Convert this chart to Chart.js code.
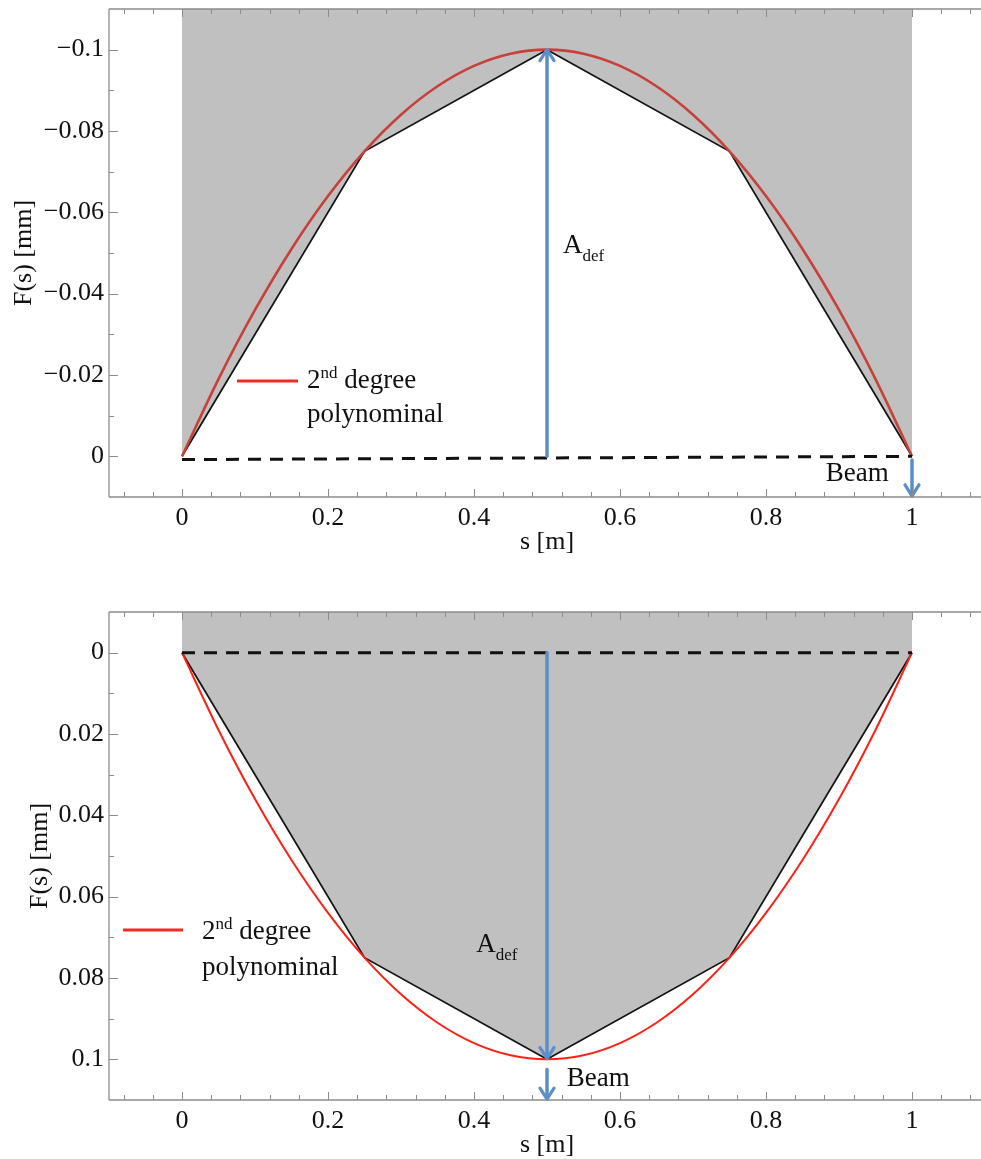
<!DOCTYPE html>
<html>
<head>
<meta charset="utf-8">
<script src="https://cdn.jsdelivr.net/npm/chart.js@4.4.1/dist/chart.umd.min.js"></script>
<style>
  html, body { margin: 0; padding: 0; background: #fff; overflow: hidden; }
  .wrap { position: absolute; left: 0; width: 981px; height: 558px; overflow: hidden; }
</style>
</head>
<body>
<div class="wrap" style="top:0"><canvas id="upper" width="990" height="558"></canvas></div>
<div class="wrap" style="top:603px"><canvas id="lower" width="990" height="558"></canvas></div>
<script>
const serif = '"Liberation Serif", "Times New Roman", serif';
const ink   = '#111111';
const gray  = '#c0c0c0';
const blue  = '#5b8ec9';
const axisGray = '#8c8c8c';

// support points of the deflected beam (polyline)
const sNodes       = [0, 0.25, 0.5, 0.75, 1];
const fNodesUpper  = [0, -0.075, -0.1, -0.075, 0];
const fNodesLower  = [0, 0.075, 0.1, 0.075, 0];

// 2nd degree polynominal
const sFit      = [0, 0.05, 0.1, 0.15, 0.2, 0.25, 0.3, 0.35, 0.4, 0.45, 0.5,
                   0.55, 0.6, 0.65, 0.7, 0.75, 0.8, 0.85, 0.9, 0.95, 1];
const fFitUpper = [0, -0.019, -0.036, -0.051, -0.064, -0.075, -0.084, -0.091, -0.096, -0.099, -0.1,
                   -0.099, -0.096, -0.091, -0.084, -0.075, -0.064, -0.051, -0.036, -0.019, 0];
const fFitLower = [0, 0.019, 0.036, 0.051, 0.064, 0.075, 0.084, 0.091, 0.096, 0.099, 0.1,
                   0.099, 0.096, 0.091, 0.084, 0.075, 0.064, 0.051, 0.036, 0.019, 0];

// undeformed beam (dashed)
const sBeam      = [0, 1];
const fBeamUpper = [0.0008, 0];
const fBeamLower = [0, 0];

// ticks
const xTicks = [0, 0.2, 0.4, 0.6, 0.8, 1];
const xMinor = [-0.08, -0.04, 0.04, 0.08, 0.12, 0.16, 0.24, 0.28, 0.32, 0.36, 0.44, 0.48,
                0.52, 0.56, 0.64, 0.68, 0.72, 0.76, 0.84, 0.88, 0.92, 0.96, 1.04, 1.08];
const yTicksUpper = [-0.1, -0.08, -0.06, -0.04, -0.02, 0];
const yMinorUpper = [-0.09, -0.07, -0.05, -0.03, -0.01];
const yTicksLower = [0, 0.02, 0.04, 0.06, 0.08, 0.1];
const yMinorLower = [0.01, 0.03, 0.05, 0.07, 0.09];

// arrows [s0, f0, s1, f1], head at (s1, f1)
const arrowsUpper = [[0.5, 0, 0.5, -0.1], [1, 0.0009, 1, 0.0097]];
const arrowsLower = [[0.5, 0, 0.5, 0.0998], [0.5, 0.1025, 0.5, 0.1098]];

const zip = (xs, ys) => xs.map((x, i) => ({ x, y: ys[i] }));
const fmt = v => (v < 0 ? '\u2212' : '') + String(Math.abs(v));

const decor = {
  id: 'decor',
  afterDatasetsDraw(chart, args, o) {
    const { ctx, chartArea: a, scales: { x, y } } = chart;
    const W = chart.width;
    ctx.save();

    // blue arrows
    ctx.strokeStyle = blue;
    ctx.lineCap = 'round';
    ctx.lineJoin = 'round';
    o.arrows.forEach(([s0, f0, s1, f1]) => {
      const x0 = x.getPixelForValue(s0), y0 = y.getPixelForValue(f0);
      const x1 = x.getPixelForValue(s1), y1 = y.getPixelForValue(f1);
      const dir = Math.sign(y1 - y0);
      ctx.lineWidth = 3.5;
      ctx.beginPath();
      ctx.moveTo(x0, y0); ctx.lineTo(x1, y1);
      ctx.stroke();
      ctx.lineWidth = 3.2;
      ctx.beginPath();
      ctx.moveTo(x1 - 7, y1 - dir * 11);
      ctx.lineTo(x1, y1);
      ctx.lineTo(x1 + 7, y1 - dir * 11);
      ctx.stroke();
    });

    // frame and inward ticks
    ctx.strokeStyle = axisGray;
    ctx.lineCap = 'butt';
    ctx.lineWidth = 1.3;
    ctx.beginPath();
    ctx.moveTo(a.left, a.top); ctx.lineTo(a.left, a.bottom);
    ctx.moveTo(a.left, a.top); ctx.lineTo(W, a.top);
    ctx.moveTo(a.left, a.bottom); ctx.lineTo(W, a.bottom);
    ctx.stroke();
    ctx.lineWidth = 1;
    const xt = (vals, len) => vals.forEach(v => {
      const px = Math.round(x.getPixelForValue(v)) + 0.5;
      ctx.beginPath();
      ctx.moveTo(px, a.bottom); ctx.lineTo(px, a.bottom - len);
      ctx.moveTo(px, a.top); ctx.lineTo(px, a.top + len);
      ctx.stroke();
    });
    const yt = (vals, len) => vals.forEach(v => {
      const py = Math.round(y.getPixelForValue(v)) + 0.5;
      ctx.beginPath();
      ctx.moveTo(a.left, py); ctx.lineTo(a.left + len, py);
      ctx.stroke();
    });
    xt(xTicks, 8); xt(xMinor, 5);
    yt(o.yTicks, 9); yt(o.yMinor, 5);

    // text annotations
    ctx.fillStyle = ink;
    ctx.textBaseline = 'middle';
    ctx.font = '27px ' + serif;
    ctx.fillText('Beam', x.getPixelForValue(o.beamAt[0]), y.getPixelForValue(o.beamAt[1]));

    ctx.textBaseline = 'alphabetic';
    const ax = x.getPixelForValue(o.adefAt[0]), ay = y.getPixelForValue(o.adefAt[1]);
    ctx.font = '27px ' + serif;
    ctx.fillText('A', ax, ay);
    const aw = ctx.measureText('A').width;
    ctx.font = '17px ' + serif;
    ctx.fillText('def', ax + aw, ay + 8);

    // legend
    const L = o.legend;
    ctx.strokeStyle = '#ee2a22';
    ctx.lineWidth = 3;
    ctx.beginPath();
    ctx.moveTo(L.x0, L.y); ctx.lineTo(L.x1, L.y);
    ctx.stroke();
    ctx.font = '27px ' + serif;
    ctx.fillText('2', L.tx, L.b1);
    let tx = L.tx + ctx.measureText('2').width;
    ctx.font = '17px ' + serif;
    ctx.fillText('nd', tx, L.b1 - 10);
    tx += ctx.measureText('nd').width;
    ctx.font = '27px ' + serif;
    ctx.fillText(' degree', tx, L.b1);
    ctx.fillText('polynominal', L.tx, L.b2);

    ctx.restore();
  }
};

function build(id, o) {
  return new Chart(document.getElementById(id), {
    type: 'scatter',
    data: {
      datasets: [
        { data: zip(sBeam, o.beam), showLine: true, borderColor: ink, borderWidth: 3,
          borderDash: [13, 9], pointRadius: 0, fill: false },
        { data: zip(sFit, o.fit), showLine: true, borderColor: o.fitColor, borderWidth: o.fitWidth,
          pointRadius: 0, cubicInterpolationMode: 'monotone', fill: false },
        { data: zip(sNodes, o.nodes), showLine: true, borderColor: '#151515', borderWidth: 1.8,
          pointRadius: 0, tension: 0, fill: 'end', backgroundColor: gray }
      ]
    },
    options: {
      responsive: false,
      animation: false,
      events: [],
      layout: { padding: { left: 0, top: 9, right: 5, bottom: 0 } },
      plugins: {
        legend: { display: false },
        tooltip: { enabled: false },
        decor: o.decor
      },
      scales: {
        x: {
          type: 'linear', min: -0.1, max: 1.1,
          grid: { display: false, drawTicks: false },
          border: { display: false },
          afterBuildTicks: s => { s.ticks = xTicks.map(v => ({ value: v })); },
          afterFit: s => { s.height = 61; s.paddingLeft = 0; s.paddingRight = 0; },
          ticks: { autoSkip: false, maxRotation: 0, padding: 6, color: ink,
                   font: { family: serif, size: 26 }, callback: fmt },
          title: { display: true, text: 's [m]', color: ink,
                   font: { family: serif, size: 26 }, padding: { top: 0, bottom: 0 } }
        },
        y: {
          type: 'linear', min: o.ymin, max: o.ymax, reverse: true,
          grid: { display: false, drawTicks: false },
          border: { display: false },
          afterBuildTicks: s => { s.ticks = o.yTicks.map(v => ({ value: v })); },
          afterFit: s => { s.width = 109; s.paddingTop = 0; s.paddingBottom = 0; },
          ticks: { autoSkip: false, padding: 5, color: ink,
                   font: { family: serif, size: 26 }, callback: fmt },
          title: { display: true, text: 'F(s) [mm]', color: ink,
                   font: { family: serif, size: 26 }, padding: { top: o.titlePad, bottom: 0 } }
        }
      }
    },
    plugins: [decor]
  });
}

build('upper', {
  nodes: fNodesUpper, fit: fFitUpper, beam: fBeamUpper,
  fitColor: '#c8403a', fitWidth: 2.6,
  ymin: -0.11, ymax: 0.01, yTicks: yTicksUpper, titlePad: 9,
  decor: {
    arrows: arrowsUpper, yTicks: yTicksUpper, yMinor: yMinorUpper,
    beamAt: [0.882, 0.0044], adefAt: [0.522, -0.0499],
    legend: { x0: 237, x1: 298, y: 381, tx: 307, b1: 388, b2: 422 }
  }
});

build('lower', {
  nodes: fNodesLower, fit: fFitLower, beam: fBeamLower,
  fitColor: '#ff2015', fitWidth: 2,
  ymin: -0.01, ymax: 0.11, yTicks: yTicksLower, titlePad: 25,
  decor: {
    arrows: arrowsLower, yTicks: yTicksLower, yMinor: yMinorLower,
    beamAt: [0.527, 0.1049], adefAt: [0.403, 0.0735],
    legend: { x0: 123, x1: 183, y: 327, tx: 202, b1: 336, b2: 372 }
  }
});
</script>
</body>
</html>
